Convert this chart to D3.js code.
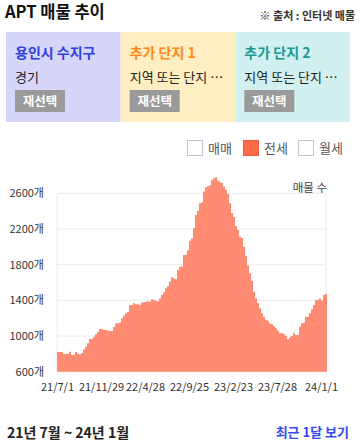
<!DOCTYPE html>
<html><head><meta charset="utf-8">
<script src="https://cdn.jsdelivr.net/npm/d3@7"></script>
<style>
html,body{margin:0;padding:0;background:#fff;}
svg{display:block;font-family:"Noto Sans CJK KR","Noto Sans",sans-serif;}
</style></head>
<body>
<svg id="chart" width="360" height="446"></svg>
<script>
// ---- data ----
const panels = [
  {title:"용인시 수지구", sub:"경기"},
  {title:"추가 단지 1", sub:"지역 또는 단지 …"},
  {title:"추가 단지 2", sub:"지역 또는 단지 …"}
];
const legendItems = ["매매","전세","월세"];
const yTicks = [600,1000,1400,1800,2200,2600];
const xTickLabels = ["21/7/1","21/11/29","22/4/28","22/9/25","23/2/23","23/7/28","24/1/1"];
const xTickIndex = [0,22,44,66,88,110,132];
const jeonse = [
 821,821,821,798,798,800,824,787,790,821,800,794,810,850,880,918,967,967,992,1020,
 1048,1079,1079,1068,1068,1060,1057,1057,1100,1142,1142,1150,1199,1230,1255,1270,1348,1348,1367,1356,
 1356,1350,1375,1381,1385,1390,1385,1412,1405,1396,1390,1420,1460,1490,1535,1560,1610,1658,1645,1636,
 1740,1777,1780,1908,1910,1960,2069,2092,2208,2357,2405,2488,2500,2620,2667,2680,2690,2749,2770,2779,
 2741,2725,2715,2674,2640,2592,2488,2380,2335,2234,2189,2113,2100,2000,1900,1790,1703,1620,1497,1423,
 1367,1311,1255,1217,1180,1172,1140,1131,1110,1086,1060,1030,1032,1020,1000,963,985,1000,1030,1012,
 1015,1104,1142,1150,1217,1217,1255,1300,1348,1404,1404,1423,1397,1460,1471
];

(function(){
const svg = d3.select("#chart");

// ---- header ----
svg.append("text").attr("x",5).attr("y",18).attr("font-size",16.5).attr("font-weight",700)
  .attr("fill","#111").text("APT 매물 추이");
svg.append("text").attr("x",355).attr("y",20).attr("text-anchor","end").attr("font-size",11)
  .attr("font-weight",700).attr("fill","#333").text("※ 출처 : 인터넷 매물");

// ---- panels ----
const panelBg = ["#d5d6fa","#feeec2","#d2f0ef"];
const panelColor = ["#2f3fe0","#ff8a1c","#189a94"];
const px = d3.scaleBand().domain(d3.range(3)).range([6,350]);
const pg = svg.selectAll("g.panel").data(panels).join("g").attr("class","panel")
  .attr("transform",(d,i)=>`translate(${px(i)},32)`);
pg.append("rect").attr("width",px.bandwidth()).attr("height",90).attr("fill",(d,i)=>panelBg[i]);
pg.append("text").attr("x",9).attr("y",26).attr("font-size",14).attr("font-weight",700)
  .attr("fill",(d,i)=>panelColor[i]).text(d=>d.title);
pg.append("text").attr("x",9).attr("y",50).attr("font-size",13).attr("fill","#222").text(d=>d.sub);
pg.append("rect").attr("x",9).attr("y",58).attr("width",50).attr("height",22).attr("fill","#9a9a9a");
pg.append("text").attr("x",34).attr("y",74).attr("text-anchor","middle").attr("font-size",12.5)
  .attr("font-weight",700).attr("fill","#fff").text("재선택");

// ---- legend ----
const lx = [187,243,298];
const lg = svg.selectAll("g.leg").data(legendItems).join("g").attr("class","leg")
  .attr("transform",(d,i)=>`translate(${lx[i]},140)`);
lg.append("rect").attr("x",0.5).attr("y",0.5).attr("width",15).attr("height",15)
  .attr("fill",(d,i)=>i===1?"#ff6a4a":"#fff")
  .attr("stroke",(d,i)=>i===1?"#f05a3a":"#c4c6d6").attr("stroke-width",1);
lg.append("text").attr("x",21).attr("y",13).attr("font-size",13).attr("fill","#555").text(d=>d);

// ---- chart ----
const pL = 57, pR = 327, pT = 193.3, pB = 371.7;
const N = jeonse.length;
const x = d3.scaleLinear().domain([0,N]).range([pL,pR]);
const y = d3.scaleLinear().domain([600,2600]).range([pB,pT]);

const grid = svg.append("g");
grid.selectAll("line.h").data(yTicks).join("line").attr("class","h")
  .attr("x1",pL).attr("x2",pR-1).attr("y1",d=>y(d)).attr("y2",d=>y(d))
  .attr("stroke","#ececec").attr("stroke-width",1);
grid.selectAll("line.v").data([pL,pR-1]).join("line").attr("class","v")
  .attr("x1",d=>d).attr("x2",d=>d).attr("y1",pT).attr("y2",pB)
  .attr("stroke","#ececec").attr("stroke-width",1);

const pts = jeonse.map((v,i)=>[i,v]).concat([[N,jeonse[N-1]]]);
const area = d3.area().curve(d3.curveStepAfter)
  .x(d=>x(d[0])).y0(y(600)).y1(d=>y(d[1]));
svg.append("path").datum(pts).attr("d",area).attr("fill","#ff8b72");

// y axis
const ya = svg.append("g").attr("transform",`translate(${pL},0)`)
  .call(d3.axisLeft(y).tickValues(yTicks).tickSize(0).tickPadding(13).tickFormat(d=>d+"개"));
ya.select(".domain").remove();
ya.selectAll("text").attr("font-size",11).attr("fill","#333")
  .attr("font-family","\"Noto Sans CJK KR\",sans-serif");

// x axis
const xa = svg.append("g").attr("transform",`translate(0,${pB})`)
  .call(d3.axisBottom(x).tickValues(xTickIndex).tickSize(0).tickPadding(12)
    .tickFormat((d,i)=>xTickLabels[i]));
xa.select(".domain").remove();
xa.selectAll("text").attr("font-size",11).attr("fill","#333")
  .attr("font-family","\"Noto Sans CJK KR\",sans-serif");

svg.append("text").attr("x",327).attr("y",192).attr("text-anchor","end").attr("font-size",11.5)
  .attr("fill","#444").text("매물 수");

// ---- footer ----
svg.append("text").attr("x",7).attr("y",438).attr("font-size",14).attr("font-weight",700)
  .attr("fill","#222").text("21년 7월 ~ 24년 1월");
svg.append("text").attr("x",349).attr("y",437).attr("text-anchor","end").attr("font-size",13)
  .attr("font-weight",700).attr("fill","#3448ee").text("최근 1달 보기");
})();
</script>
</body></html>
